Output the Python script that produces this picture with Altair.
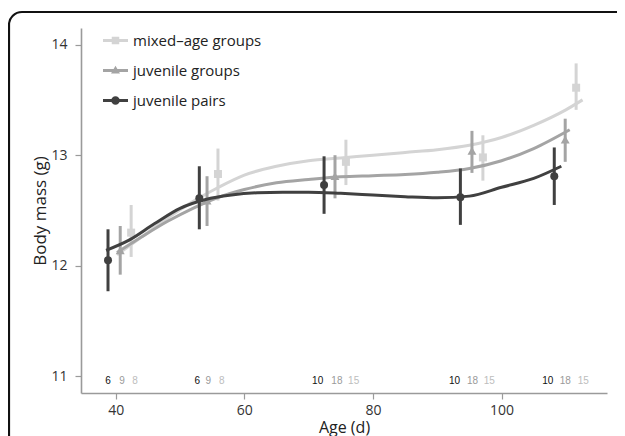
import altair as alt
import pandas as pd

# ---------------- data ----------------
series = ["mixed–age groups", "juvenile groups", "juvenile pairs"]
colors = ["#d4d4d4", "#a4a4a4", "#404040"]
count_colors = ["#bdbdbd", "#9a9a9a", "#111111"]
shapes = ["square", "triangle-up", "circle"]
point_sizes = [64, 80, 64]

# mean +/- error at each sampling age
ages_mixed = [42.4, 55.9, 75.8, 97.1, 111.6]
mean_mixed = [12.30, 12.83, 12.94, 12.98, 13.61]
lo_mixed = [12.08, 12.59, 12.73, 12.77, 13.41]
hi_mixed = [12.55, 13.06, 13.14, 13.18, 13.83]

ages_juv = [40.7, 54.2, 74.1, 95.4, 109.9]
mean_juv = [12.14, 12.59, 12.81, 13.04, 13.14]
lo_juv = [11.92, 12.36, 12.61, 12.84, 12.94]
hi_juv = [12.36, 12.81, 13.00, 13.22, 13.33]

ages_pair = [38.8, 53.0, 72.4, 93.6, 108.2]
mean_pair = [12.05, 12.61, 12.73, 12.62, 12.81]
lo_pair = [11.77, 12.33, 12.47, 12.37, 12.55]
hi_pair = [12.33, 12.90, 12.99, 12.88, 13.07]

# fitted curves
fit_age_mixed = [40.2, 44, 48, 52, 56, 60, 65, 70, 75, 80, 85, 90, 95, 100, 105, 110, 112.6]
fit_mixed = [12.10, 12.26, 12.43, 12.58, 12.71, 12.82, 12.90, 12.95, 12.975, 13.0, 13.025,
             13.05, 13.09, 13.16, 13.27, 13.41, 13.50]
fit_age_juv = [40.2, 44, 48, 52, 56, 60, 65, 70, 75, 80, 85, 90, 95, 100, 105, 110.6]
fit_juv = [12.12, 12.26, 12.40, 12.52, 12.62, 12.69, 12.75, 12.78, 12.805, 12.815, 12.825,
           12.845, 12.88, 12.95, 13.06, 13.23]
fit_age_pair = [38.5, 42, 46, 50, 54, 58, 62, 66, 70, 75, 80, 85, 90, 95, 100, 105, 109.3]
fit_pair = [12.14, 12.23, 12.38, 12.52, 12.60, 12.64, 12.66, 12.665, 12.665, 12.655, 12.64,
            12.625, 12.615, 12.63, 12.71, 12.79, 12.90]

# sample sizes printed along the bottom
count_age_mixed = [43.0, 56.5, 77.0, 98.1, 112.7]
counts_mixed = [8, 8, 15, 15, 15]
count_age_juv = [41.0, 54.4, 74.4, 95.5, 109.9]
counts_juv = [9, 9, 18, 18, 18]
count_age_pair = [38.8, 52.7, 71.4, 92.7, 107.2]
counts_pair = [6, 6, 10, 10, 10]
count_level = 10.96

x_ticks = [40, 60, 80, 100]
y_ticks = [11, 12, 13, 14]

# legend glyphs: a bar with the marker on it
legend_paths = [
    "M-2.5,-0.3L2.5,-0.3L2.5,0.3L-2.5,0.3Z M-0.75,-0.75L0.75,-0.75L0.75,0.75L-0.75,0.75Z",
    "M-2.5,-0.3L2.5,-0.3L2.5,0.3L-2.5,0.3Z M0,-0.95L0.9,0.6L-0.9,0.6Z",
    "M-2.5,-0.3L2.5,-0.3L2.5,0.3L-2.5,0.3Z M-0.85,0A0.85,0.85 0 1,1 0.85,0A0.85,0.85 0 1,1 -0.85,0Z",
]

FONT = "Open Sans"

points = {
    series[0]: (ages_mixed, mean_mixed, lo_mixed, hi_mixed),
    series[1]: (ages_juv, mean_juv, lo_juv, hi_juv),
    series[2]: (ages_pair, mean_pair, lo_pair, hi_pair),
}
fits = {
    series[0]: (fit_age_mixed, fit_mixed),
    series[1]: (fit_age_juv, fit_juv),
    series[2]: (fit_age_pair, fit_pair),
}
counts = {
    series[0]: (count_age_mixed, counts_mixed),
    series[1]: (count_age_juv, counts_juv),
    series[2]: (count_age_pair, counts_pair),
}

xscale = alt.Scale(domain=[34.6, 116.4], nice=False, zero=False)
yscale = alt.Scale(domain=[10.85, 14.15], nice=False, zero=False)
xaxis = alt.Axis(values=x_ticks, title="Age (d)", labelPadding=4,
                 titleY=39, titleBaseline="alphabetic", titleFontSize=16)
yaxis = alt.Axis(values=y_ticks, title="Body mass (g)", titlePadding=1, labelPadding=8)


def X(field):
    return alt.X(field, type="quantitative", scale=xscale, axis=xaxis)


def Y(field):
    return alt.Y(field, type="quantitative", scale=yscale, axis=yaxis)


layers = []

# decorative frame: top edge, left edge and a rounded top-left corner
one = alt.Data(values=[{"k": 1}])
FR = dict(color="#111111", strokeWidth=2.2)
layers.append(alt.Chart(one).mark_rule(**FR).encode(
    x=alt.value(-59), x2=alt.value(536), y=alt.value(-16)))
layers.append(alt.Chart(one).mark_rule(**FR).encode(
    x=alt.value(-72), y=alt.value(-3), y2=alt.value(411)))
layers.append(alt.Chart(one).mark_arc(color="#111111").encode(
    x=alt.value(-59), y=alt.value(-3),
    theta=alt.value(4.7124), theta2=alt.value(6.2832),
    radius=alt.value(14.1), radius2=alt.value(11.9)))

for s, col, ccol, shp, sz in zip(series, colors, count_colors, shapes, point_sizes):
    a, m, lo, hi = points[s]
    dfp = pd.DataFrame({"series": s, "age": a, "mean": m, "lo": lo, "hi": hi})
    fa, fv = fits[s]
    dff = pd.DataFrame({"series": s, "age": fa, "fit": fv})
    ca, cv = counts[s]
    dfc = pd.DataFrame({"series": s, "age": ca, "n": [str(v) for v in cv], "lvl": count_level})

    layers.append(alt.Chart(dfp).mark_rule(color=col, strokeWidth=3).encode(
        x=X("age"), y=Y("lo"), y2="hi"))
    layers.append(alt.Chart(dfp).mark_point(shape=shp, filled=True, color=col, size=sz, opacity=1).encode(
        x=X("age"), y=Y("mean")))
    layers.append(alt.Chart(dff).mark_line(color=col, strokeWidth=3, interpolate="monotone").encode(
        x=X("age"), y=Y("fit")))
    layers.append(alt.Chart(dfc).mark_text(color=ccol, font="Liberation Sans", fontSize=10,
                                           baseline="middle").encode(
        x=X("age"), y=Y("lvl"), text="n:N"))

# legend-only layer (invisible points)
dfl = pd.DataFrame({"series": series, "age": [ages_mixed[0], ages_juv[0], ages_pair[0]],
                    "mean": [mean_mixed[0], mean_juv[0], mean_pair[0]]})
leg = alt.Legend(title=None, orient="none", legendX=27, legendY=5, padding=0,
                 rowPadding=14, symbolSize=100, symbolOpacity=1, symbolStrokeWidth=0,
                 labelFontSize=15, labelFont=FONT, labelColor="#222222", labelOffset=10,
                 labelLimit=300)
layers.append(alt.Chart(dfl).mark_point(filled=True, opacity=0).encode(
    x=X("age"), y=Y("mean"),
    color=alt.Color("series:N", scale=alt.Scale(domain=series, range=colors), legend=leg),
    shape=alt.Shape("series:N", scale=alt.Scale(domain=series, range=legend_paths), legend=leg),
))

chart = alt.layer(*layers).properties(
    width=526, height=365,
    autosize=alt.AutoSizeParams(type="none"),
    padding={"left": 73, "top": 20, "right": 10, "bottom": 46},
    background="white",
).configure_view(stroke=None).configure_axis(
    grid=False,
    domainColor="#9a9a9a", domainWidth=1.6,
    tickColor="#9a9a9a", tickWidth=1.2, tickSize=6,
    labelFont=FONT, labelFontSize=14, labelColor="#333333",
    titleFont=FONT, titleFontSize=17, titleFontWeight="normal", titleColor="#222222",
)

chart.save("out.html", embed_options={"renderer": "svg", "actions": False})
